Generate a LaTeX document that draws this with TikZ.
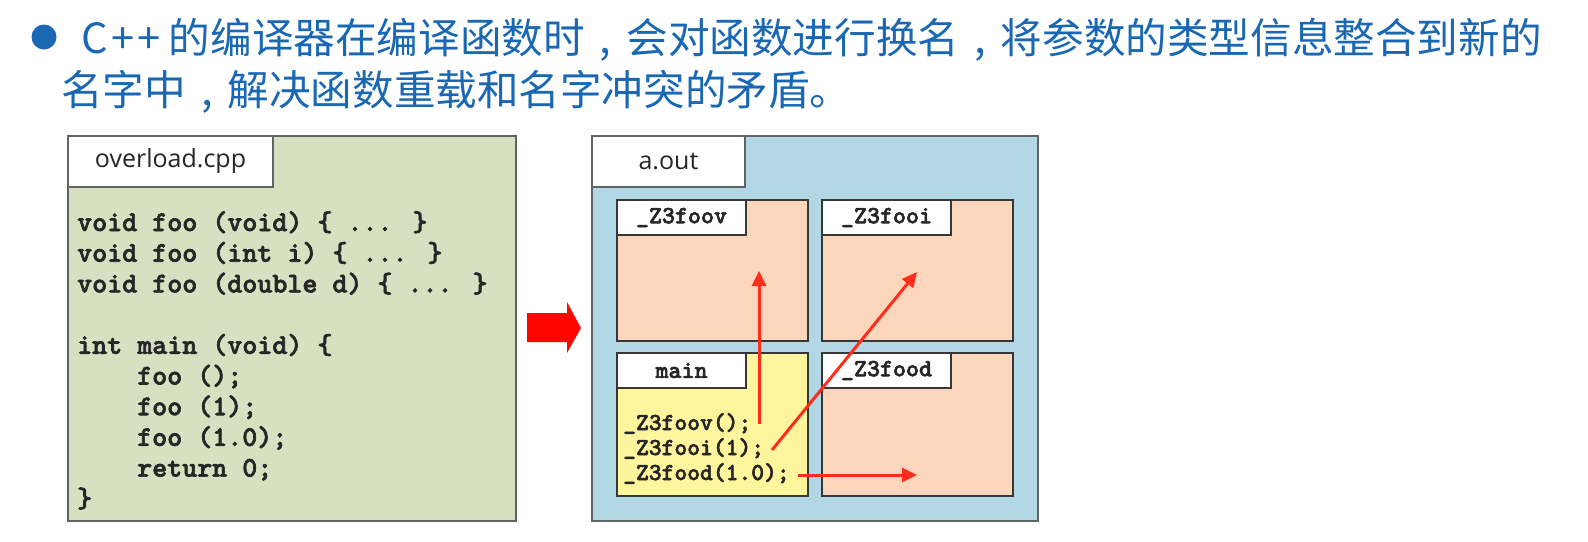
\documentclass[tikz,border=0pt]{standalone}
\usepackage{fontspec}
\setmainfont{Open Sans}
\newfontfamily\cjk{Noto Sans CJK SC}
\newfontfamily\codefont{lmmonolt10-bold.otf}[FakeBold=2.2]
\usetikzlibrary{arrows.meta}
\definecolor{titleblue}{RGB}{26,104,180}
\definecolor{srcfill}{RGB}{215,224,192}
\definecolor{binfill}{RGB}{178,215,229}
\definecolor{funcfill}{RGB}{252,213,189}
\definecolor{mainfill}{RGB}{255,245,157}
\definecolor{edgegray}{RGB}{95,100,100}
\definecolor{edgedark}{RGB}{55,55,55}
\definecolor{callred}{RGB}{255,45,25}
\newcommand{\zhcomma}{\makebox[1em][c]{,}}
\tikzset{
  panelbox/.style={draw=edgegray, line width=1.5pt, anchor=north west, inner sep=0pt, outer sep=0pt},
  tabbox/.style={draw=edgegray, fill=white, line width=1.5pt, anchor=north west, inner sep=0pt, outer sep=0pt, font=\fontsize{25}{25}\selectfont, text=black!85},
  funcbox/.style={draw=edgedark, fill=funcfill, line width=1.3pt, anchor=north west, inner sep=0pt, outer sep=0pt, minimum width=191, minimum height=141},
  functab/.style={draw=edgedark, fill=white, line width=1.3pt, anchor=north west, inner sep=0pt, outer sep=0pt, minimum width=129, minimum height=35, font=\codefont\fontsize{24.8}{24.8}\selectfont, text=black!85},
  codeline/.style={anchor=base west, inner sep=0pt, font=\codefont\fontsize{28.6}{28.6}\selectfont, text=black!85},
  callline/.style={anchor=base west, inner sep=0pt, font=\codefont\fontsize{24.4}{24.4}\selectfont, text=black!85},
  callarrow/.style={draw=callred, line width=3pt, -{Triangle[length=15pt,width=14pt]}},
  titleline/.style={anchor=west, inner sep=0pt, text=titleblue, font=\cjk\fontsize{41.6}{41.6}\selectfont}
}
\begin{document}
\begin{tikzpicture}[x=1pt,y=-1pt]
\useasboundingbox (0,0) rectangle (1588,541);
\fill[white] (0,0) rectangle (1588,541);

% title
\node[circle, fill=titleblue, minimum size=25, inner sep=0pt] (bullet) at (44,37) {};
\node[titleline] (t1) at (81,40) {C\kern4pt+\kern3pt+\kern8pt的编译器在编译函数时\zhcomma 会对函数进行换名\zhcomma 将参数的类型信息整合到新的};
\node[titleline] (t2) at (61,92) {名字中\zhcomma 解决函数重载和名字冲突的矛盾。};

% source panel
\node[panelbox, fill=srcfill, minimum width=448, minimum height=385] (src) at (68,136) {};
\node[tabbox, minimum width=205, minimum height=51] (srctab) at (68,136) {overload.cpp};
\node[codeline] (c1) at (77,231) {void foo (void) \{ ... \}};
\node[codeline] (c2) at (77,261.7) {void foo (int i) \{ ... \}};
\node[codeline] (c3) at (77,292.4) {void foo (double d) \{ ... \}};
\node[codeline] (c5) at (77,353.8) {int main (void) \{};
\node[codeline] (c6) at (137,384.5) {foo ();};
\node[codeline] (c7) at (137,415.2) {foo (1);};
\node[codeline] (c8) at (137,445.9) {foo (1.0);};
\node[codeline] (c9) at (137,476.6) {return 0;};
\node[codeline] (c10) at (77,507.3) {\}};

% big arrow
\fill[red!95!orange] (527,313) -- (567,313) -- (567,302) -- (581,328) -- (567,353) -- (567,342) -- (527,342) -- cycle;

% binary panel
\node[panelbox, fill=binfill, minimum width=446, minimum height=385] (bin) at (592,136) {};
\node[tabbox, minimum width=153, minimum height=51] (bintab) at (592,136) {a.out};

\node[funcbox] (foov) at (617,200) {};
\node[functab] (foovtab) at (617,200) {\_Z3foov};
\node[funcbox] (fooi) at (822,200) {};
\node[functab] (fooitab) at (822,200) {\_Z3fooi};
\node[funcbox, fill=mainfill, minimum height=143] (main) at (617,353) {};
\node[functab] (maintab) at (617,353) {main};
\node[funcbox, minimum height=143] (food) at (822,353) {};
\node[functab] (foodtab) at (822,353) {\_Z3food};

\node[callline] (m1) at (623,430) {\_Z3foov();};
\node[callline] (m2) at (623,455) {\_Z3fooi(1);};
\node[callline] (m3) at (623,480) {\_Z3food(1.0);};

\coordinate (a1s) at (759,424);
\coordinate (a1e) at (759,271);
\coordinate (a2s) at (772,450);
\coordinate (a2e) at (917,272);
\coordinate (a3s) at (798,475);
\coordinate (a3e) at (917,475);
\draw[callarrow] (a1s) -- (a1e);
\draw[callarrow] (a2s) -- (a2e);
\draw[callarrow] (a3s) -- (a3e);
\end{tikzpicture}
\end{document}
